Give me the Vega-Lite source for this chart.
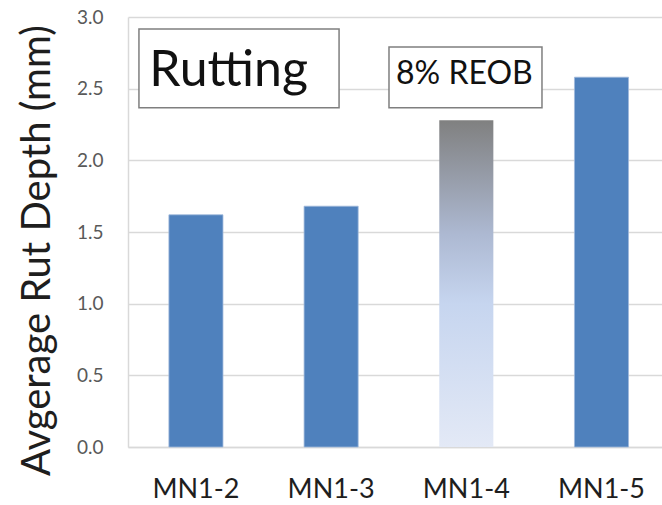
{
  "$schema": "https://vega.github.io/schema/vega-lite/v6.json",
  "width": 534,
  "height": 430,
  "autosize": {"type": "none"},
  "padding": {"left": 128, "top": 17, "right": 0, "bottom": 58},
  "background": "white",
  "config": {
    "font": "Lato",
    "view": {"stroke": null}
  },
  "data": {
    "values": [
      {"mix": "MN1-2", "depth": 1.62},
      {"mix": "MN1-3", "depth": 1.68},
      {"mix": "MN1-4", "depth": 2.28},
      {"mix": "MN1-5", "depth": 2.58}
    ]
  },
  "resolve": {"scale": {"x": "independent"}},
  "layer": [
    {
      "transform": [{"filter": "datum.mix !== 'MN1-4'"}],
      "mark": {"type": "bar", "color": "#4F81BD", "stroke": "#9fb9dc", "strokeWidth": 0.8},
      "encoding": {
        "x": {
          "field": "mix", "type": "nominal", "sort": ["MN1-2", "MN1-3", "MN1-4", "MN1-5"],
          "scale": {"domain": ["MN1-2", "MN1-3", "MN1-4", "MN1-5"], "paddingInner": 0.6, "paddingOuter": 0.275, "align": 0.55},
          "axis": {
            "title": null, "labelAngle": 0, "labelFontSize": 27, "labelColor": "#1e1e1e",
            "labelPadding": 29, "ticks": false, "domainColor": "#d9d9d9", "domainWidth": 1.5
          }
        },
        "y": {
          "field": "depth", "type": "quantitative",
          "scale": {"domain": [0, 3], "nice": false},
          "axis": {
            "title": "Avgerage Rut Depth (mm)", "values": [0, 0.5, 1, 1.5, 2, 2.5, 3], "format": ".1f",
            "labelFontSize": 19, "labelColor": "#595959", "labelPadding": 25, "ticks": false,
            "domainColor": "#d9d9d9", "domainWidth": 1.5,
            "grid": true, "gridColor": "#d9d9d9", "gridWidth": 1.5,
            "titleFontSize": 40, "titleFontWeight": "normal", "titleColor": "#1e1e1e",
            "titleAngle": -90, "titleX": -91, "titleY": 233, "titleAlign": "center", "titleBaseline": "middle"
          }
        }
      }
    },
    {
      "transform": [{"filter": "datum.mix === 'MN1-4'"}],
      "mark": {
        "type": "bar",
        "color": {
          "gradient": "linear", "x1": 0, "y1": 0, "x2": 0, "y2": 1,
          "stops": [
            {"offset": 0, "color": "#808080"},
            {"offset": 0.35, "color": "#adb9d2"},
            {"offset": 0.56, "color": "#c6d5ef"},
            {"offset": 1, "color": "#e3e9f6"}
          ]
        }
      },
      "encoding": {
        "x": {
          "field": "mix", "type": "nominal",
          "scale": {"domain": ["MN1-2", "MN1-3", "MN1-4", "MN1-5"], "paddingInner": 0.6, "paddingOuter": 0.275, "align": 0.55},
          "axis": null
        },
        "y": {"field": "depth", "type": "quantitative"}
      }
    },
    {
      "data": {"values": [{}]},
      "mark": {"type": "rect", "fill": "white", "stroke": "#7f7f7f", "strokeWidth": 1.5},
      "encoding": {
        "x": {"datum": 0.082, "type": "quantitative", "scale": {"domain": [0, 4]}, "axis": null},
        "x2": {"datum": 1.581},
        "y": {"datum": 2.917, "type": "quantitative"},
        "y2": {"datum": 2.366}
      }
    },
    {
      "data": {"values": [{}]},
      "mark": {"type": "rect", "fill": "white", "stroke": "#7f7f7f", "strokeWidth": 1.5},
      "encoding": {
        "x": {"datum": 1.955, "type": "quantitative", "scale": {"domain": [0, 4]}, "axis": null},
        "x2": {"datum": 3.101},
        "y": {"datum": 2.791, "type": "quantitative"},
        "y2": {"datum": 2.366}
      }
    },
    {
      "data": {"values": [{}]},
      "mark": {"type": "text", "text": "Rutting", "fontSize": 50, "align": "left", "baseline": "middle", "color": "#111111"},
      "encoding": {
        "x": {"datum": 0.16, "type": "quantitative", "scale": {"domain": [0, 4]}, "axis": null},
        "y": {"datum": 2.62, "type": "quantitative"}
      }
    },
    {
      "data": {"values": [{}]},
      "mark": {"type": "text", "text": "8% REOB", "fontSize": 32, "align": "center", "baseline": "middle", "color": "#111111"},
      "encoding": {
        "x": {"datum": 2.52, "type": "quantitative", "scale": {"domain": [0, 4]}, "axis": null},
        "y": {"datum": 2.6, "type": "quantitative"}
      }
    }
  ]
}
